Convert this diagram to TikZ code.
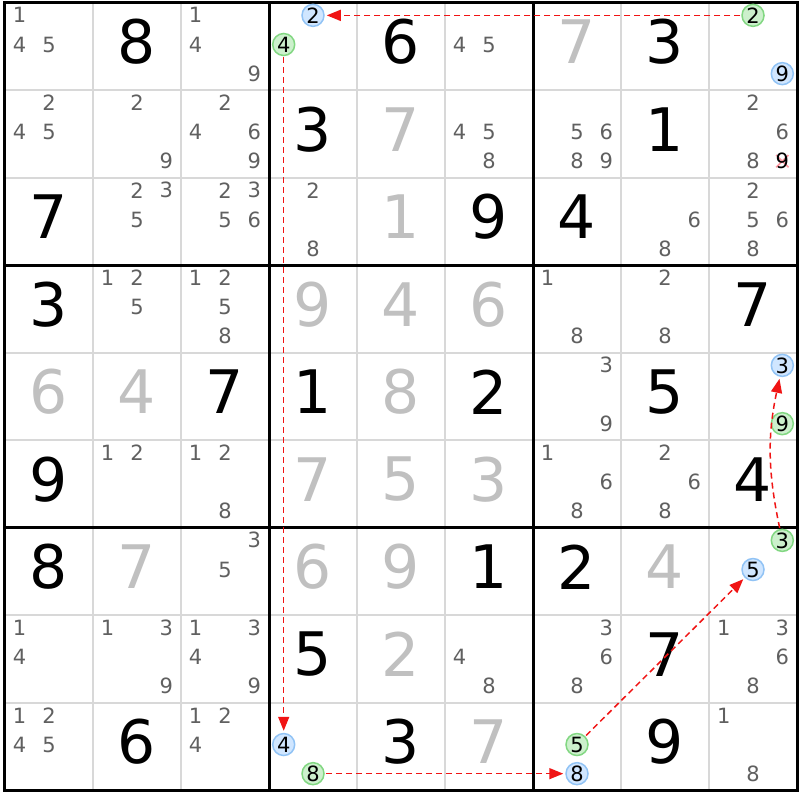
\documentclass[tikz,border=0pt]{standalone}
\usepackage{fontspec}
\setmainfont{DejaVu Sans}
\usetikzlibrary{arrows.meta}
\definecolor{solvedgray}{RGB}{192,192,192}
\definecolor{candgray}{RGB}{96,96,96}
\definecolor{thingray}{RGB}{216,216,216}
\definecolor{chainred}{RGB}{240,20,20}
\definecolor{ongreen}{RGB}{204,240,204}
\definecolor{ongreenline}{RGB}{130,215,130}
\definecolor{offblue}{RGB}{208,230,255}
\definecolor{offblueline}{RGB}{145,195,245}
\definecolor{crossred}{RGB}{255,150,160}

\begin{document}
\begin{tikzpicture} [
    x=88pt, y=-87.5pt,
    given/.style={font=\fontsize{60}{60}\selectfont, text=black, inner sep=0pt},
    solved/.style={given, text=solvedgray},
    cand/.style={font=\fontsize{21}{21}\selectfont, text=candgray, inner sep=0pt},
    on/.style={cand, text=black, circle, draw=ongreenline, fill=ongreen, line width=1.5pt, minimum size=22pt},
    off/.style={on, draw=offblueline, fill=offblue},
    chain/.style={draw=chainred, line width=1.5pt, dash pattern=on 6pt off 4pt,
      -{Triangle[length=14pt,width=11pt]}, shorten >=2pt, shorten <=1pt}
  ]

  \path [fill=white, use as bounding box] (-0.0568,-0.0286) rectangle (9.034,9.114);

  \begin{scope} [every path/.style={draw=thingray, line width=2pt}]
    \foreach \i in {1,2,4,5,7,8} {
      \draw (\i,0) -- (\i,9);
      \draw (0,\i) -- (9,\i);
    }
  \end{scope}
  \begin{scope} [every path/.style={draw=black, line width=3pt, line cap=rect}]
    \foreach \i in {0,3,6,9} {
      \draw (\i,0) -- (\i,9);
      \draw (0,\i) -- (9,\i);
    }
  \end{scope}

  \foreach \r/\c/\d in {1/2/8, 1/5/6, 1/8/3, 2/4/3, 2/8/1, 3/1/7, 3/6/9, 3/7/4, 4/1/3, 4/9/7,
      5/3/7, 5/4/1, 5/6/2, 5/8/5, 6/1/9, 6/9/4, 7/1/8, 7/6/1, 7/7/2, 8/4/5, 8/8/7,
      9/2/6, 9/5/3, 9/8/9}
    \node [given] (g\r\c) at (\c-0.5,\r-0.55) {\d};
  \foreach \r/\c/\d in {1/7/7, 2/5/7, 3/5/1, 4/4/9, 4/5/4, 4/6/6, 5/1/6, 5/2/4, 5/5/8,
      6/4/7, 6/5/5, 6/6/3, 7/2/7, 7/4/6, 7/5/9, 7/8/4, 8/5/2, 9/6/7}
    \node [solved] (g\r\c) at (\c-0.5,\r-0.55) {\d};

  \foreach \r/\c/\l in {1/1/{1,4,5}, 1/3/{1,4,9}, 1/6/{4,5},
      2/1/{2,4,5}, 2/2/{2,9}, 2/3/{2,4,6,9}, 2/6/{4,5,8}, 2/7/{5,6,8,9}, 2/9/{2,6,8},
      3/2/{2,3,5}, 3/3/{2,3,5,6}, 3/4/{2,8}, 3/8/{6,8}, 3/9/{2,5,6,8},
      4/2/{1,2,5}, 4/3/{1,2,5,8}, 4/7/{1,8}, 4/8/{2,8},
      5/7/{3,9},
      6/2/{1,2}, 6/3/{1,2,8}, 6/7/{1,6,8}, 6/8/{2,6,8},
      7/3/{3,5},
      8/1/{1,4}, 8/2/{1,3,9}, 8/3/{1,3,4,9}, 8/6/{4,8}, 8/7/{3,6,8}, 8/9/{1,3,6,8},
      9/1/{1,2,4,5}, 9/3/{1,2,4}, 9/9/{1,8}}
    \foreach \d in \l {
      \pgfmathsetmacro\cx{\c-1+(mod(\d-1,3)+0.5)/3}
      \pgfmathsetmacro\cy{\r-1+(floor((\d-1)/3)+0.5)/3-0.02}
      \node [cand] (k\r\c\d) at (\cx,\cy) {\d};
    }

  % removed candidate
  \draw [crossred, line width=1.5pt] (8.763,1.743) -- (8.903,1.883) (8.763,1.883) -- (8.903,1.743);
  \node [cand, text=black] (k299) at (8.833,1.813) {9};

  \node [off] (k142) at (3.5,0.147) {2};
  \node [on] (k144) at (3.167,0.48) {4};
  \node [on] (k192) at (8.5,0.147) {2};
  \node [off] (k199) at (8.833,0.813) {9};
  \node [off] (k593) at (8.833,4.147) {3};
  \node [on] (k599) at (8.833,4.813) {9};
  \node [on] (k793) at (8.833,6.147) {3};
  \node [off] (k795) at (8.5,6.48) {5};
  \node [off] (k944) at (3.167,8.48) {4};
  \node [on] (k948) at (3.5,8.813) {8};
  \node [on] (k975) at (6.5,8.48) {5};
  \node [off] (k978) at (6.5,8.813) {8};

  \path [chain] (k192) -- (k142);
  \path [chain] (k144) -- (k944);
  \path [chain] (k948) -- (k978);
  \path [chain] (k975) -- (k795);
  \path [chain] (k793) to [bend left=12] (k593);
\end{tikzpicture}
\end{document}
